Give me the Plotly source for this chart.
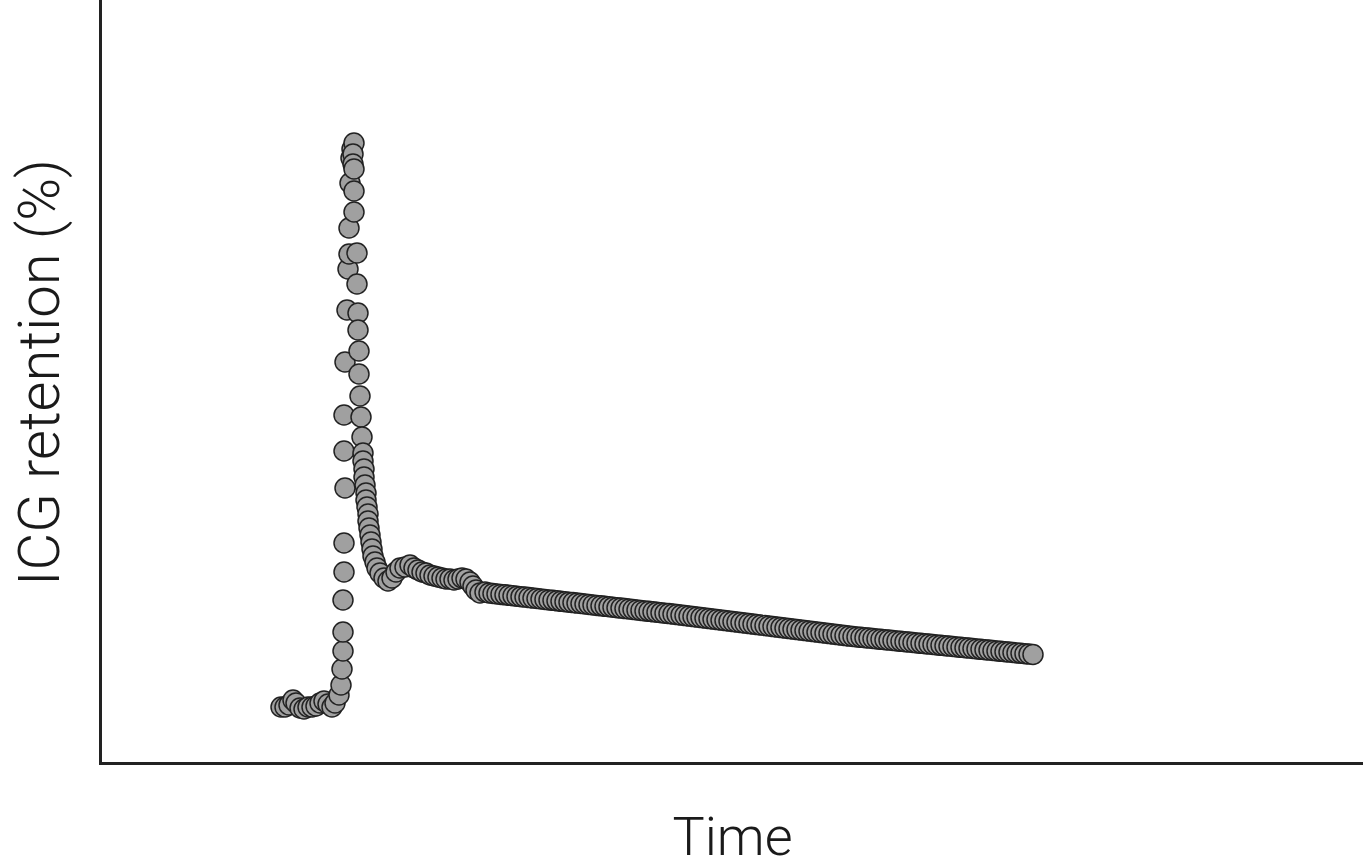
import plotly.graph_objects as go

# Curva de retenção de ICG (unidades arbitrárias)
tempo_base = [17.9, 18.3, 18.7, 19.1, 19.4, 19.8, 20.2, 20.6, 21.0, 21.4, 21.8, 22.2, 22.6, 23.0, 23.3]
ret_base = [5.5, 5.5, 5.7, 6.2, 5.9, 5.4, 5.3, 5.5, 5.5, 5.6, 5.9, 6.1, 5.8, 5.5, 5.9]

tempo_subida = [23.7, 23.9, 24.0, 24.1, 24.1, 24.1, 24.2, 24.2, 24.3, 24.2, 24.2, 24.3, 24.5, 24.6,
                24.7, 24.7, 24.8, 24.9, 25.0, 25.2]
ret_subida = [6.7, 7.7, 9.3, 11.1, 13.0, 16.2, 19.0, 21.9, 27.4, 31.1, 34.7, 40.0, 45.2, 49.3,
              50.8, 53.4, 57.9, 60.4, 61.3, 61.9]

tempo_queda = [25.1, 25.1, 25.2, 25.2, 25.2, 25.5, 25.5, 25.6, 25.6, 25.7, 25.7, 25.8, 25.9, 26.0,
               26.1, 26.1, 26.2, 26.2, 26.3, 26.4, 26.4, 26.5, 26.6, 26.6, 26.7, 26.8, 26.9, 27.0,
               27.1, 27.3, 27.5, 27.8, 28.2, 28.6, 29.0, 29.4, 29.8, 30.3, 30.8, 31.2, 31.6, 32.0,
               32.4, 32.8, 33.2, 33.6, 34.0, 34.4, 34.8, 35.2, 35.6, 36.0, 36.4, 36.8, 37.1, 37.4,
               37.8, 38.3]
ret_queda = [60.8, 59.8, 59.3, 57.1, 55.0, 50.9, 47.8, 44.9, 43.2, 41.1, 38.8, 36.6, 34.5, 32.5,
             30.9, 30.1, 29.3, 28.5, 27.7, 26.9, 26.2, 25.5, 24.8, 24.1, 23.4, 22.7, 22.0, 21.3,
             20.6, 20.0, 19.4, 18.9, 18.4, 18.1, 18.4, 19.0, 19.4, 19.5, 19.7, 19.4, 19.2, 19.0,
             18.9, 18.7, 18.6, 18.5, 18.4, 18.3, 18.3, 18.2, 18.3, 18.4, 18.3, 18.0, 17.6, 17.2,
             16.9, 17.0]

tempo_cauda = [38.7, 39.1, 39.5, 39.9, 40.3, 40.7, 41.1, 41.5, 41.9, 42.3,
               42.7, 43.1, 43.5, 43.9, 44.3, 44.7, 45.1, 45.5, 45.9, 46.3,
               46.7, 47.1, 47.5, 47.9, 48.3, 48.7, 49.1, 49.5, 49.9, 50.3,
               50.7, 51.1, 51.5, 51.9, 52.3, 52.7, 53.1, 53.5, 53.9, 54.3,
               54.7, 55.1, 55.5, 55.9, 56.3, 56.7, 57.1, 57.5, 57.9, 58.3,
               58.7, 59.1, 59.5, 59.9, 60.3, 60.7, 61.1, 61.5, 61.9, 62.3,
               62.7, 63.1, 63.5, 63.9, 64.3, 64.7, 65.1, 65.5, 65.9, 66.3,
               66.7, 67.1, 67.5, 67.9, 68.3, 68.7, 69.1, 69.5, 69.9, 70.3,
               70.7, 71.1, 71.5, 71.9, 72.3, 72.7, 73.1, 73.5, 73.9, 74.3,
               74.7, 75.1, 75.5, 75.9, 76.3, 76.7, 77.1, 77.5, 77.9, 78.3,
               78.7, 79.1, 79.5, 79.9, 80.3, 80.7, 81.1, 81.5, 81.9, 82.3,
               82.7, 83.1, 83.5, 83.9, 84.3, 84.7, 85.1, 85.5, 85.9, 86.3,
               86.7, 87.1, 87.5, 87.9, 88.3, 88.7, 89.1, 89.5, 89.9, 90.3,
               90.7, 91.1, 91.5, 91.9, 92.3, 92.7, 93.1]
ret_cauda = [16.90, 16.85, 16.81, 16.76, 16.72, 16.67, 16.62, 16.58, 16.53, 16.49,
             16.44, 16.39, 16.35, 16.30, 16.26, 16.21, 16.17, 16.12, 16.07, 16.03,
             15.98, 15.94, 15.89, 15.85, 15.80, 15.75, 15.71, 15.66, 15.62, 15.57,
             15.53, 15.48, 15.43, 15.39, 15.34, 15.30, 15.25, 15.21, 15.16, 15.11,
             15.07, 15.02, 14.98, 14.93, 14.88, 14.84, 14.79, 14.74, 14.69, 14.64,
             14.59, 14.54, 14.49, 14.44, 14.39, 14.34, 14.29, 14.24, 14.19, 14.14,
             14.09, 14.04, 13.99, 13.94, 13.89, 13.84, 13.79, 13.74, 13.69, 13.64,
             13.59, 13.54, 13.49, 13.44, 13.39, 13.34, 13.29, 13.24, 13.19, 13.14,
             13.09, 13.04, 12.99, 12.94, 12.89, 12.84, 12.79, 12.74, 12.69, 12.64,
             12.59, 12.55, 12.51, 12.47, 12.43, 12.39, 12.35, 12.31, 12.27, 12.23,
             12.19, 12.15, 12.11, 12.07, 12.03, 11.99, 11.95, 11.91, 11.87, 11.83,
             11.79, 11.75, 11.71, 11.67, 11.63, 11.59, 11.55, 11.51, 11.47, 11.43,
             11.39, 11.35, 11.31, 11.27, 11.23, 11.19, 11.15, 11.11, 11.07, 11.03,
             10.99, 10.95, 10.91, 10.87, 10.83, 10.79, 10.75]

tempo = tempo_base + tempo_subida + tempo_queda + tempo_cauda
retencao = ret_base + ret_subida + ret_queda + ret_cauda

fig = go.Figure()
fig.add_trace(go.Scatter(x=tempo, y=retencao, mode='markers',
                         marker=dict(size=20, color='#a0a0a0',
                                     line=dict(color='#222222', width=1.5)),
                         showlegend=False))

fonte_x = dict(family='Roboto, Liberation Sans, sans-serif', size=54, color='#1a1a1a', weight=300)
fonte_y = dict(family='Roboto, Liberation Sans, sans-serif', size=58, color='#1a1a1a', weight=300)

fig.update_layout(
    width=1363, height=868,
    margin=dict(l=102, r=0, t=0, b=106),
    paper_bgcolor='white', plot_bgcolor='white',
    xaxis=dict(range=[0, 126.1], showline=True, linecolor='#222222', linewidth=3,
               showgrid=False, zeroline=False, showticklabels=False, ticks='',
               title=dict(text='Time', font=fonte_x, standoff=55)),
    yaxis=dict(range=[0, 76.2], showline=True, linecolor='#222222', linewidth=3,
               showgrid=False, zeroline=False, showticklabels=False, ticks=''),
)

# título do eixo y como anotação, para poder encostar mais na borda esquerda
fig.add_annotation(text='ICG retention (%)', textangle=-90, font=fonte_y, showarrow=False,
                   xref='paper', yref='paper', x=0, y=0.5, xanchor='center', yanchor='middle',
                   xshift=-63, yshift=8)

# tira a margem padrão do body para a figura ocupar a janela inteira
fig.write_html("out.html", config={'displayModeBar': False},
               post_script="document.body.style.margin='0';document.body.style.overflow='hidden';")
